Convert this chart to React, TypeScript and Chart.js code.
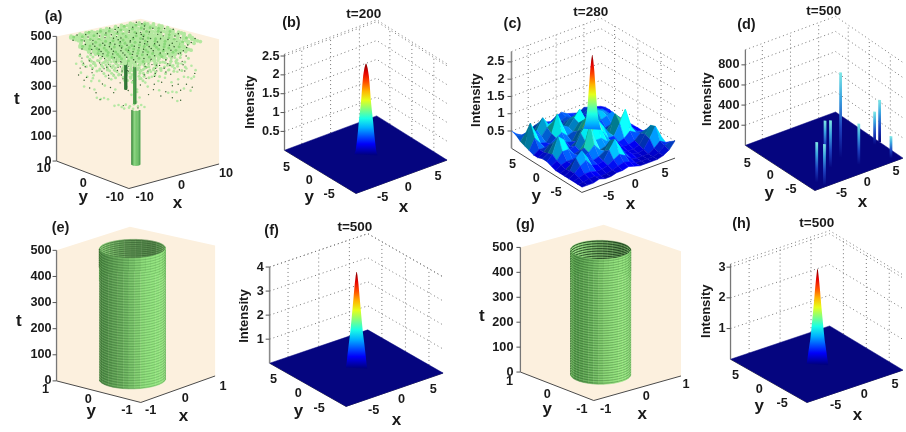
import React, { useEffect, useRef } from "react";
import { Chart, registerables } from "chart.js";

Chart.register(...registerables);

// ---------- data ----------
const timeTicks = [0, 100, 200, 300, 400, 500];
const intensityTicksB = [0.5, 1, 1.5, 2, 2.5];
const intensityTicksC = [0.5, 1, 1.5, 2, 2.5];
const intensityTicksD = [200, 400, 600, 800];
const intensityTicksF = [1, 2, 3, 4];
const intensityTicksH = [1, 2, 3];
const planeTicks = [-5, 0, 5];

const peakZB = [0, 0.1, 0.3, 0.6, 0.9, 1.2, 1.5, 1.8, 2.1, 2.3, 2.42];
const peakRB = [1.15, 1.02, 0.92, 0.8, 0.7, 0.57, 0.46, 0.38, 0.28, 0.16, 0.04];
const peakZF = [0, 0.2, 0.5, 1, 1.5, 2, 2.5, 3, 3.5, 3.85, 4];
const peakRF = [1.0, 0.92, 0.85, 0.72, 0.58, 0.47, 0.37, 0.27, 0.17, 0.08, 0.02];
const peakZH = [0, 0.2, 0.5, 0.8, 1.2, 1.6, 2, 2.4, 2.8, 3.1];
const peakRH = [1.0, 0.92, 0.8, 0.67, 0.55, 0.44, 0.33, 0.24, 0.13, 0.03];
const peakZC = [0.7, 1, 1.3, 1.6, 2, 2.4, 2.7, 2.85];
const peakRC = [0.85, 0.6, 0.48, 0.4, 0.3, 0.2, 0.1, 0.02];

// panel (c): intensity on the grid, rows y = 8..-8, columns x = -8..8
const gridC = [
  [0.5, 0.35, 0.25, 0.3, 0.4, 0.45, 0.4, 0.35, 0.45, 0.5, 0.4, 0.35, 0.3, 0.4, 0.35, 0.3, 0.25],
  [0.45, 0.4, 0.3, 0.35, 0.55, 0.5, 0.35, 0.3, 0.4, 0.45, 0.35, 0.3, 0.35, 0.45, 0.4, 0.3, 0.3],
  [0.35, 0.55, 0.45, 0.5, 0.8, 0.55, 0.4, 0.35, 0.45, 0.5, 0.4, 0.35, 0.4, 0.5, 0.45, 0.35, 0.3],
  [0.3, 0.9, 0.55, 0.4, 0.6, 0.7, 0.55, 0.45, 0.6, 0.65, 0.5, 0.4, 0.5, 0.55, 0.5, 0.35, 0.25],
  [0.25, 0.55, 0.35, 0.3, 0.5, 1.0, 0.6, 0.5, 0.7, 0.9, 0.55, 0.45, 0.7, 0.6, 0.45, 0.3, 0.25],
  [0.2, 0.3, 0.3, 0.35, 0.45, 0.55, 0.4, 0.45, 0.65, 0.6, 0.4, 0.4, 0.5, 0.55, 0.6, 0.35, 0.25],
  [0.2, 0.3, 0.45, 0.5, 0.4, 0.35, 0.3, 0.55, 0.8, 0.5, 0.35, 0.3, 0.35, 0.4, 0.45, 0.4, 0.25],
  [0.25, 0.35, 0.6, 0.6, 0.35, 0.3, 0.4, 0.7, 1.0, 0.6, 0.35, 0.35, 0.5, 0.5, 0.35, 0.3, 0.25],
  [0.25, 0.4, 0.85, 0.7, 0.35, 0.4, 0.7, 0.9, 1.2, 0.9, 0.65, 0.4, 0.9, 0.7, 0.4, 0.3, 0.25],
  [0.2, 0.3, 0.5, 0.5, 0.3, 0.35, 0.55, 0.7, 0.95, 0.65, 0.4, 0.4, 0.7, 1.05, 0.5, 0.3, 0.25],
  [0.15, 0.25, 0.3, 0.3, 0.35, 0.5, 1.1, 0.6, 0.6, 0.45, 0.3, 0.3, 0.35, 0.5, 0.4, 0.35, 0.3],
  [0.15, 0.2, 0.3, 0.4, 0.35, 0.45, 0.6, 0.4, 0.45, 0.4, 0.3, 0.25, 0.25, 0.3, 0.45, 0.5, 0.3],
  [0.15, 0.25, 0.55, 0.7, 0.45, 0.3, 0.35, 0.45, 0.7, 0.5, 0.25, 0.2, 0.2, 0.25, 0.5, 0.7, 0.35],
  [0.15, 0.25, 0.4, 0.5, 0.3, 0.25, 0.3, 0.55, 0.8, 0.5, 0.25, 0.2, 0.15, 0.2, 0.45, 0.75, 0.4],
  [0.15, 0.2, 0.25, 0.25, 0.2, 0.2, 0.25, 0.35, 0.45, 0.35, 0.2, 0.15, 0.15, 0.15, 0.25, 0.4, 0.3],
  [0.15, 0.15, 0.2, 0.2, 0.15, 0.15, 0.2, 0.25, 0.3, 0.25, 0.15, 0.15, 0.15, 0.15, 0.2, 0.35, 0.4],
  [0.15, 0.15, 0.15, 0.2, 0.15, 0.15, 0.2, 0.2, 0.25, 0.2, 0.15, 0.15, 0.15, 0.15, 0.2, 0.3, 0.5],
];

// panel (d): isolated spikes as x, y, intensity
const spikesD = [
  [0.75, -2.75, 850], [8, -2.45, 420], [6.95, -2.65, 330], [-1.05, -1.45, 370], [-2.15, -4.15, 470],
  [1.65, -5.85, 410], [6.55, -7.05, 220], [-6.35, -6.35, 400], [-6.05, -7.75, 415],
];

// panel (a): broken-up canopy. # light, o mid, x dark; rows y high to low, columns x low to high
const canopyMap = [
  "...#.x#.#o#..#.#x.#.#..#.x...",
  "..#o#.#x#.##o#.#.#x#o#.#.#...",
  "..#.#o#.##x#.#o#x#.#.##o#x#..",
  ".x##.#x#o#.#x##.#o#.#x#.#o#..",
  "..#o#.#.#x#o#.#x#.##o#.#x#.#.",
  "..#x#o##.#.#x#o#.#x#.#o#.##..",
  ".#.#.x#o#x#.#.#o#x##.#x#o#.#.",
  "..##o#.#.#o#x#.#.#o#.#.#x#.#.",
  "..#.x#o#x#.#o#x##.#x#o#.#o#..",
  ".#o#.#.#.##x#.#o#.#.#x#.#.x#.",
  "..#x#o#x#.#.#o#x#o#x#.#o#.#..",
  "..#.#.#o#x#o#.#.#.#o#.#x#.#x.",
  ".x#o#x#.#.#x#o#x#o#.#x#.#o#..",
  "..#.##o#x#o#.#.#.#x#o#.#.#...",
  "..#o#.#.#.#x#o#x#.#.#x#o#.#..",
  ".#.x#o#x#o#.#.#o#x#o#.#.#x#..",
  "..#.#.#.#x#o#x#.#.#.#o#x#.#..",
  "...#o#x#.#.#.#o#x#o#.#.#.#...",
  "..#.#.#o#x#o#.#.#.#x#o#x#.#..",
  "..x#.#.#.#.#x#o#.#o#.#.#o#...",
  "...#o#x#o#.#.#.#x#.#x#.#.#...",
  "..#.#.#.#x#o#x#o#.#.#o#.#x...",
  "...#.x#.#.#.#.#.#x#o#.#.#....",
  "..#.#.#o#.x#.#o#.#.#.#x.#....",
  "...#..#.#.#.#.#.#.#.x.#.#....",
];
const canopyThin = [
  ".............................",
  "....x..#....x...#.....x......",
  "...#...x.#....#x...#....#....",
  "......#....x#.....#.x.....x..",
  "..x.#....#.....x#....#.#.....",
  ".....#.x....#o....x#....x.#..",
  "...#....#x.....#.#.....#.....",
  "..x...#....#.x....o.x#....#..",
  "....#...x#....#.#.....#.x....",
  "..#...#.....#o.x...#.....#...",
  "...x.#..#x.....#.#...x#...x..",
  ".....#....#.x#....#.#....#...",
  "..#....x.#....#o.x....#......",
  "....#.#....#x...#...#...x.#..",
  "..x....#.x...#....x#.#.......",
  "...#.#....#....o#.....#.#....",
  ".....x..#...x#....#x.....#...",
  "..#...#....#....#.....#.x....",
  "....#...x.#..x.#...#.x..#....",
  "...x..#.....#.....x..#.......",
  ".....#..#.x...#.#.....#.x....",
  "...#.....#...x....#.#........",
  ".....x.#....#...x......#.....",
  "...#.....#.x...#..#.x........",
  "......#.....#.......#........",
];
// panel (a): scattered fragments below the canopy as s (along the picture plane), t
const fragmentsLight = [
  [-7.5, 395], [-6.8, 405], [-6.2, 385], [-5.8, 410], [-5.1, 395], [-4.6, 372], [-4.2, 402], [-3.6, 388], [-3.1, 408], [-2.6, 372],
  [-2.2, 396], [-1.7, 410], [-1.1, 384], [-0.6, 402], [0.2, 378], [0.7, 408], [1.2, 390], [1.8, 372], [2.3, 402], [2.9, 385],
  [3.4, 410], [3.9, 378], [4.5, 398], [5, 372], [5.5, 405], [6.1, 385], [6.7, 396], [7.2, 378], [-6.9, 360], [-6.1, 345],
  [-5.3, 352], [-5.6, 328], [-5.4, 340], [-4.6, 330], [-3.8, 350], [-3.1, 338], [-2.2, 355], [-1.5, 335], [-0.8, 350], [0.4, 342],
  [1.1, 328], [1.9, 352], [2.7, 335], [3.5, 348], [4.3, 330], [5.1, 342], [5.8, 352], [6.3, 350], [6.7, 345], [7, 352],
  [-6.5, 305], [-5.2, 295], [-3.9, 312], [-2.6, 298], [-1.2, 310], [0.1, 300], [1.4, 312], [2.8, 298], [3.9, 288], [4.4, 292],
  [4.9, 290], [5.8, 305], [6.6, 296], [-4.9, 262], [-4.4, 258], [-4, 262], [-3.5, 258], [5, 255], [-2.7, 232], [-2.2, 236],
  [-1.8, 228], [-1.3, 238], [-0.8, 232], [-0.3, 240], [0.2, 232], [0.6, 238], [1, 230], [-1.5, 222], [-0.9, 226], [-0.4, 222],
  [0, 250], [-0.2, 262], [0.4, 268], [-0.6, 278], [0.1, 290],
];
const fragmentsDark = [
  [-7, 378], [-5.5, 362], [-4, 380], [-2.8, 358], [-1, 372], [0.9, 360], [2.5, 375], [4.2, 362], [5.9, 375], [-6.5, 330],
  [-4.2, 318], [-2, 325], [0.5, 318], [2.2, 322], [4.4, 316], [6.1, 322], [-5, 282], [-2.8, 285], [1.5, 280], [3, 275],
  [4.4, 268], [5.4, 258], [-4.5, 255], [-1.6, 234], [0.2, 226], [-6.2, 342], [-3.4, 342], [-0.4, 336], [3.1, 330], [5.1, 322],
  [-5.8, 300], [-3.2, 305], [-1, 295], [2.1, 300], [3.6, 292], [5.4, 298], [6.8, 310], [-7.2, 350], [7.1, 365], [1.2, 345],
];
const stalkTimes = [242, 388];
const stalkTimes2 = [300, 405];
const trunkTimes = [0, 218];
const canopyLayers = [395, 430];
const canopyTop = [500, 465];

const ringsE = [
  2, 12, 22, 32, 42, 52, 62, 72, 82, 92, 102, 112, 122, 132, 142, 152, 162, 172, 182, 192, 202, 212, 222, 232, 242,
  252, 262, 272, 282, 292, 302, 312, 322, 332, 342, 352, 362, 372, 382, 392, 402, 412, 422, 432, 442, 452, 462, 472, 482, 492,
];
const ringsG = [
  4, 14, 24, 34, 44, 54, 64, 74, 84, 94, 104, 114, 124, 134, 144, 154, 164, 174, 184, 194, 204, 214, 224, 234, 244,
  254, 264, 274, 284, 294, 304, 314, 324, 334, 344, 354, 364, 374, 384, 394, 404, 414, 424, 434, 444, 454, 464, 474, 484, 494,
];
const innerRingsE = [496, 488, 480, 472, 464, 456, 448, 440, 432];
const innerRingsG = [497, 487, 477, 467, 457, 447, 437, 427, 417];
const frontAngles = [135, 145, 155, 165, 175, 185, 195, 205, 215, 225, 235, 245, 255, 265, 275, 285, 295, 305, 315];
const backAngles = [315, 325, 335, 345, 355, 5, 15, 25, 35, 45, 55, 65, 75, 85, 95, 105, 115, 125, 135];

// ---------- layout ----------
type P = { F: number[]; R: number[]; L: number[]; B: number[]; lo: number; hi: number; zs: number };
const panelA: P = { F: [126, 188], R: [217, 163], L: [53, 160], B: [138, 142], lo: -10, hi: 10, zs: 0.254 };
const panelB: P = { F: [355, 193], R: [447, 159], L: [283, 149], B: [376, 114], lo: -8, hi: 8, zs: 38.4 };
const panelC: P = { F: [583, 192], R: [677, 157], L: [512, 147], B: [602, 113], lo: -8, hi: 8, zs: 35.2 };
const panelD: P = { F: [818, 190], R: [907, 157], L: [748, 144], B: [839, 110], lo: -8, hi: 8, zs: 0.1025 };
const panelE: P = { F: [138, 406], R: [213, 379], L: [53, 384], B: [127, 360], lo: -1, hi: 1, zs: 0.266 };
const panelF: P = { F: [345, 410], R: [443, 376], L: [268, 366], B: [367, 332], lo: -8, hi: 8, zs: 24.5 };
const panelG: P = { F: [595, 404], R: [683, 379], L: [521, 375], B: [605, 352], lo: -1, hi: 1, zs: 0.254 };
const panelH: P = { F: [810, 406], R: [907, 373], L: [733, 362], B: [833, 328], lo: -8, hi: 8, zs: 31.3 };

const CREAM = "#fcf0de";
const NAVY = "#05057f";
const GRID = "#777777";
const cylStopsE = ["#3f7a38", "#4f8c47", "#66ac5a", "#8adb78", "#94e680", "#80ce70"];
const cylStopsG = ["#79c766", "#4a8f42", "#62ab56", "#88d674", "#96e880", "#80cf6f"];
const innerStopsE = ["#74bb65", "#55864c", "#5f9454", "#7cc06c", "#95e082"];
const innerStopsG = ["#6fb460", "#55864c", "#6da55f", "#8ed67b", "#9be488"];
const trunkStops = ["#357f3a", "#4a9c49", "#7fd278", "#6cc266", "#58b05a", "#4fa352"];

const project = (p: P, x: number, y: number, z: number) => {
  const u = (x - p.lo) / (p.hi - p.lo);
  const v = (y - p.lo) / (p.hi - p.lo);
  const k = (i: number) => p.F[i] + u * (p.R[i] - p.F[i]) + v * (p.L[i] - p.F[i]) + u * v * (p.B[i] - p.R[i] - p.L[i] + p.F[i]);
  return { x: k(0), y: k(1) - z * p.zs };
};

const clamp = (v: number) => Math.max(0, Math.min(1, v));
const jetRGB = (v: number) => [clamp(1.5 - Math.abs(4 * v - 3)), clamp(1.5 - Math.abs(4 * v - 2)), clamp(1.5 - Math.abs(4 * v - 1))];
const css = (c: number[]) => `rgb(${Math.round(c[0] * 255)},${Math.round(c[1] * 255)},${Math.round(c[2] * 255)})`;

const sets: any[] = [];
const poly = (data: any[], color: any, edge = 0) =>
  sets.push({ data, backgroundColor: color, borderColor: typeof color === "string" ? color : "transparent", borderWidth: edge, fill: "shape", showLine: true, pointRadius: 0, clip: false });
const line = (data: any[], color: string, width = 1, dash: number[] = []) =>
  sets.push({ data, borderColor: color, borderWidth: width, borderDash: dash, fill: false, showLine: true, pointRadius: 0, clip: false });
const dots = (data: any[], color: string, radius: number) =>
  sets.push({ data, backgroundColor: color, borderWidth: 0, showLine: false, pointRadius: radius, pointBorderWidth: 0, clip: false });

// gradient running up the y scale; falls back to a flat colour before the scales exist
const upGradient = (c: any, fromY: number, toY: number, stops: [number, string][]) => {
  const ch = c.chart;
  const y0 = ch.scales?.y?.getPixelForValue(fromY);
  const y1 = ch.scales?.y?.getPixelForValue(toY);
  if (!Number.isFinite(y0) || !Number.isFinite(y1)) return stops[0][1];
  const g = ch.ctx.createLinearGradient(0, y0, 0, y1);
  stops.forEach(([s, col]) => g.addColorStop(s, col));
  return g;
};

const walls = (p: P, zTop: number) => {
  poly([project(p, p.lo, p.hi, zTop), project(p, p.hi, p.hi, zTop), project(p, p.hi, p.lo, zTop), project(p, p.hi, p.lo, 0), project(p, p.lo, p.lo, 0), project(p, p.lo, p.hi, 0)], CREAM);
};
const grid = (p: P, ticks: number[], zTop: number) => {
  const d = [1, 3];
  [...ticks, zTop].forEach((z) => line([project(p, p.lo, p.hi, z), project(p, p.hi, p.hi, z), project(p, p.hi, p.lo, z)], GRID, 1, d));
  planeTicks.forEach((t) => {
    line([project(p, t, p.hi, 0), project(p, t, p.hi, zTop)], GRID, 1, d);
    line([project(p, p.hi, t, 0), project(p, p.hi, t, zTop)], GRID, 1, d);
  });
};
const axes = (p: P, ticks: number[], zTop: number, zColor = "#777", zWidth = 1.3) => {
  line([project(p, p.lo, p.hi, 0), project(p, p.lo, p.lo, 0), project(p, p.hi, p.lo, 0)], "#4a4a4a", 1);
  line([project(p, p.lo, p.hi, 0), project(p, p.lo, p.hi, zTop)], zColor, zWidth);
  ticks.forEach((z) => {
    const a = project(p, p.lo, p.hi, z);
    line([a, { x: a.x - 4, y: a.y }], "#555", 1);
  });
};
const floor = (p: P) =>
  poly([project(p, p.lo, p.lo, 0), project(p, p.hi, p.lo, 0), project(p, p.hi, p.hi, 0), project(p, p.lo, p.hi, 0)], NAVY, 0.5);

const peak = (p: P, zs: number[], rs: number[], zMax: number) => {
  const left = zs.map((z, i) => project(p, -rs[i], rs[i], z));
  const right = zs.map((z, i) => project(p, rs[i], -rs[i], z)).reverse();
  const base = project(p, 0, 0, 0);
  const top = project(p, 0, 0, zMax);
  const levels = [0, 0.06, 0.12, 0.2, 0.3, 0.4, 0.5, 0.6, 0.7, 0.8, 0.9, 1];
  const stops = levels.map((s) => [s, css(jetRGB(s))] as [number, string]);
  poly([...left, ...right], (c: any) => upGradient(c, base.y, top.y, stops));
};

const spike = (p: P, x: number, y: number, h: number) => {
  const d = 0.14;
  const a = project(p, x - d, y + d, 0);
  const b = project(p, x + d, y - d, 0);
  const c1 = project(p, x + d, y - d, h);
  const c2 = project(p, x - d, y + d, h);
  const stops: [number, string][] = [[0, NAVY], [0.35, "#1c3fbe"], [0.7, "#3aa5e0"], [1, "#7fe8e6"]];
  poly([a, b, c1, c2], (c: any) => upGradient(c, a.y, c1.y, stops));
};

const mix = (stops: string[], f: number) => {
  const n = stops.length - 1;
  const i = Math.min(n - 1, Math.floor(f * n));
  const t = f * n - i;
  const h = (s: string, k: number) => parseInt(s.substr(1 + 2 * k, 2), 16);
  return `rgb(${[0, 1, 2].map((k) => Math.round(h(stops[i], k) * (1 - t) + h(stops[i + 1], k) * t)).join(",")})`;
};

const ring = (p: P, cx: number, cy: number, r: number, t: number, angles: number[]) =>
  angles.map((a) => project(p, cx + r * Math.cos((a * Math.PI) / 180), cy + r * Math.sin((a * Math.PI) / 180), t));

const cylinder = (p: P, cx: number, cy: number, r: number, t0: number, t1: number, stops: string[], angles = frontAngles) => {
  angles.slice(0, -1).forEach((a, i) => {
    const b = angles[i + 1];
    const [p0, p1] = ring(p, cx, cy, r, t0, [a, b]);
    const [p2, p3] = ring(p, cx, cy, r, t1, [b, a]);
    poly([p0, p1, p2, p3], mix(stops, i / (angles.length - 2)), 0.6);
  });
};

const drum = (p: P, cx: number, cy: number, r: number, stops: string[], innerStops: string[], rings: number[], inner: number[], ringColor: string, lightColor: string, innerColor: string) => {
  cylinder(p, cx, cy, r, 380, 500, innerStops, backAngles);
  inner.forEach((t) => line(ring(p, cx, cy, r, t, backAngles), innerColor, 0.9));
  cylinder(p, cx, cy, r, 0, 500, stops);
  rings.forEach((t) => {
    line(ring(p, cx, cy, r, t + 5, frontAngles), lightColor, 0.8);
    line(ring(p, cx, cy, r, t, frontAngles), ringColor, 0.8);
  });
};

// panel (a)
walls(panelA, 500);
axes(panelA, timeTicks, 500);
const onPlane = (pairs: number[][]) => pairs.map(([s, t]) => project(panelA, s, -s, t));
dots(onPlane(fragmentsLight), "#b6e8a4", 1.3);
dots(onPlane(fragmentsDark), "#36602f", 0.7);
const layerOf = (map: string[], ch: string, t: number, step: number) => {
  const out: any[] = [];
  map.forEach((row, r) => {
    [...row].forEach((c, k) => {
      if (c === ch) out.push(project(panelA, (k - 14) * step, (12 - r) * step * 1.03, t));
    });
  });
  return out;
};
canopyLayers.forEach((t, i) => {
  const step = i === 0 ? 0.62 : 0.66;
  dots(layerOf(canopyThin, "#", t, step), "#b2e69f", 1.5);
  dots(layerOf(canopyThin, "o", t, step), "#8ad87a", 1.4);
  dots(layerOf(canopyThin, "x", t, step), "#2f5a2a", 0.7);
});
cylinder(panelA, -0.1, 0, 0.72, trunkTimes[0], trunkTimes[1], trunkStops);
cylinder(panelA, -0.15, 0.25, 0.2, stalkTimes[0], stalkTimes[1], ["#5cb058", "#3f8f44"]);
cylinder(panelA, -1.3, 1.3, 0.18, stalkTimes2[0], stalkTimes2[1], ["#3f8a42", "#2f6f35"]);
canopyTop.forEach((t, i) => {
  const step = i === 0 ? 0.7 : 0.6;
  dots(layerOf(canopyMap, "#", t, step), "#b4e8a0", 1.9);
  dots(layerOf(canopyMap, "o", t, step), "#8ad87a", 1.5);
  dots(layerOf(canopyMap, "x", t, step), "#2f5a2a", 0.75);
});

// panel (b)
grid(panelB, intensityTicksB, 2.55);
axes(panelB, intensityTicksB, 2.55);
floor(panelB);
peak(panelB, peakZB, peakRB, 2.42);

// panel (c)
const zTopC = 2.8;
grid(panelC, intensityTicksC, zTopC);
axes(panelC, intensityTicksC, zTopC, "#8a8a8a", 1.6);
const quads: any[] = [];
for (let r = 0; r < 16; r++) {
  for (let k = 0; k < 16; k++) {
    const x = -8 + k;
    const y = 8 - r;
    const a = gridC[r][k];
    const b = gridC[r][k + 1];
    const c = gridC[r + 1][k + 1];
    const d = gridC[r + 1][k];
    quads.push({ order: x + y, x, y, a, b, c, d });
  }
}
quads.sort((m, n) => n.order - m.order);
quads.forEach(({ x, y, a, b, c, d }) => {
  const dx = (b + c - a - d) / 2;
  const dy = (a + b - c - d) / 2;
  const lit = Math.max(0.55, Math.min(1.4, 0.95 + (dy - dx) * 1.3));
  const level = 0.5 * ((a + b + c + d) / 4) + 0.5 * Math.max(a, b, c, d);
  const col = jetRGB(level / 2.2).map((v) => clamp(v * lit));
  poly([project(panelC, x, y, a), project(panelC, x + 1, y, b), project(panelC, x + 1, y - 1, c), project(panelC, x, y - 1, d)], css(col), 0.5);
});
peak(panelC, peakZC, peakRC, 2.85);

// panel (d)
grid(panelD, intensityTicksD, 950);
axes(panelD, intensityTicksD, 950);
floor(panelD);
spikesD.forEach(([x, y, h]) => spike(panelD, x, y, h));

// panel (e)
walls(panelE, 500);
axes(panelE, timeTicks, 500);
drum(panelE, -0.04, 0.04, 0.59, cylStopsE, innerStopsE, ringsE, innerRingsE, "rgba(40,85,38,0.26)", "rgba(185,250,160,0.24)", "rgba(45,85,40,0.6)");

// panel (f)
grid(panelF, intensityTicksF, 4);
axes(panelF, intensityTicksF, 4, "#8a8a8a", 1.6);
floor(panelF);
peak(panelF, peakZF, peakRF, 4);

// panel (g)
walls(panelG, 500);
axes(panelG, timeTicks, 500);
drum(panelG, 0.01, -0.01, 0.53, cylStopsG, innerStopsG, ringsG, innerRingsG, "rgba(30,70,30,0.36)", "rgba(185,250,160,0.24)", "rgba(20,50,20,0.9)");

// panel (h)
grid(panelH, intensityTicksH, 3.1);
axes(panelH, intensityTicksH, 3.1);
floor(panelH);
peak(panelH, peakZH, peakRH, 3.1);

// ---------- text ----------
type T = { s: string; x: number; y: number; font: string; align?: CanvasTextAlign; rot?: boolean };
const TICK = 'bold 12.7px "Liberation Sans"';
const AX = 'bold 17px "Liberation Sans"';
const TAG = 'bold 14.5px "Liberation Sans"';
const TITLE = 'bold 13.5px "Liberation Sans"';
const INT = 'bold 13px "Liberation Sans"';
const texts: T[] = [];
const put = (s: string, x: number, y: number, font = TICK) => texts.push({ s, x, y, font });
const zLabels = (p: P, ticks: number[], gap: number) =>
  ticks.forEach((z) => {
    const a = project(p, p.lo, p.hi, z);
    texts.push({ s: String(z), x: a.x - gap, y: a.y, font: TICK, align: "right" });
  });
const floorLabels = (labels: string[], pos: number[][]) => labels.forEach((s, i) => put(s, pos[i][0], pos[i][1]));
const names = ["5", "0", "-5", "-5", "0", "5"];
const namesA = ["10", "0", "-10", "-10", "0", "10"];
const namesU = ["1", "0", "-1", "-1", "0", "1"];
const vert = (x: number, y: number) => texts.push({ s: "Intensity", x, y, font: INT, rot: true });

zLabels(panelA, timeTicks, 5);
floorLabels(namesA, [[40, 168], [80, 183], [112, 197], [142, 197], [179, 185], [224, 173]]);
put("y", 80, 197, AX); put("x", 175, 203, AX); put("t", 13, 97, AX); put("(a)", 50, 13, TAG);

zLabels(panelB, intensityTicksB, 5);
floorLabels(names, [[285, 167], [308, 180], [328, 194], [382, 197], [408, 187], [438, 176]]);
put("y", 308, 197, AX); put("x", 403, 207, AX); vert(249, 100); put("(b)", 290, 19, TAG); put("t=200", 363, 10, TITLE);

zLabels(panelC, intensityTicksC, 7);
floorLabels(names, [[513, 164], [537, 178], [557, 192], [610, 196], [637, 184], [667, 173]]);
put("y", 537, 196, AX); put("x", 632, 204, AX); vert(477, 98); put("(c)", 513, 20, TAG); put("t=280", 592, 8, TITLE);

zLabels(panelD, intensityTicksD, 6);
floorLabels(names, [[750, 162], [773, 175], [794, 189], [845, 193], [871, 182], [900, 171]]);
put("y", 772, 193, AX); put("x", 866, 202, AX); vert(710, 97); put("(d)", 749, 21, TAG); put("t=500", 827, 7, TITLE);

zLabels(panelE, timeTicks, 5);
floorLabels(namesU, [[42, 393], [85, 403], [124, 414], [148, 414], [183, 402], [221, 390]]);
put("y", 88, 415, AX); put("x", 181, 420, AX); put("t", 15, 323, AX); put("(e)", 57, 228, TAG);

zLabels(panelF, intensityTicksF, 6);
floorLabels(names, [[272, 383], [297, 397], [318, 412], [373, 414], [401, 403], [433, 393]]);
put("y", 297, 415, AX); put("x", 396, 424, AX); vert(243, 318); put("(f)", 270, 231, TAG); put("t=500", 354, 228, TITLE);

zLabels(panelG, timeTicks, 7);
floorLabels(namesU, [[510, 385], [548, 398], [583, 413], [607, 413], [648, 400], [688, 388]]);
put("y", 548, 413, AX); put("x", 644, 418, AX); put("t", 482, 318, AX); put("(g)", 526, 225, TAG);

zLabels(panelH, intensityTicksH, 5);
floorLabels(names, [[738, 378], [762, 393], [785, 407], [839, 409], [868, 398], [899, 388]]);
put("y", 762, 410, AX); put("x", 861, 419, AX); vert(709, 313); put("(h)", 744, 224, TAG); put("t=500", 820, 223, TITLE);

const textPlugin = {
  id: "panelText",
  afterDraw(chart: any) {
    const { ctx, scales } = chart;
    ctx.save();
    ctx.fillStyle = "#1a1a1a";
    ctx.textBaseline = "middle";
    texts.forEach((t) => {
      const px = scales.x.getPixelForValue(t.x);
      const py = scales.y.getPixelForValue(t.y);
      ctx.font = t.font;
      ctx.textAlign = t.align || "center";
      if (t.rot) {
        ctx.save();
        ctx.translate(px, py);
        ctx.rotate(-Math.PI / 2);
        ctx.fillText(t.s, 0, 0);
        ctx.restore();
      } else ctx.fillText(t.s, px, py);
    });
    ctx.restore();
  },
};

export default function App() {
  const ref = useRef<HTMLCanvasElement>(null);
  useEffect(() => {
    const chart = new Chart(ref.current as HTMLCanvasElement, {
      type: "scatter",
      data: { datasets: [...sets].reverse() },
      options: {
        responsive: false,
        animation: false,
        events: [],
        layout: { padding: 0 },
        plugins: { legend: { display: false }, tooltip: { enabled: false }, title: { display: false } },
        elements: { line: { tension: 0 } },
        scales: {
          x: { type: "linear", min: 0, max: 906, display: false },
          y: { type: "linear", min: 0, max: 432, reverse: true, display: false },
        },
      },
      plugins: [textPlugin],
    } as any);
    return () => chart.destroy();
  }, []);
  return (
    <div style={{ position: "fixed", left: 0, top: 0, width: 906, height: 432, background: "#fff" }}>
      <canvas ref={ref} width={906} height={432} style={{ display: "block", filter: "blur(0.4px)" }} />
    </div>
  );
}
